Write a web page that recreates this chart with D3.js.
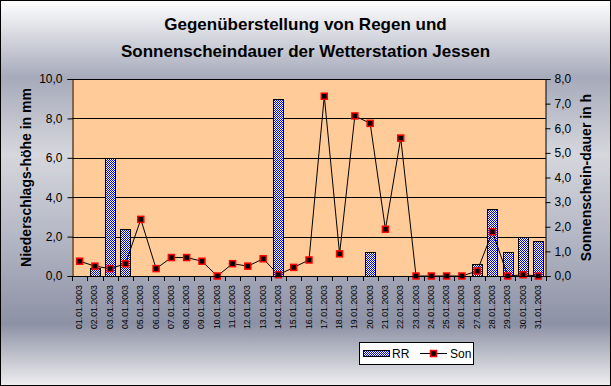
<!DOCTYPE html>
<html>
<head>
<meta charset="utf-8">
<script src="https://cdn.jsdelivr.net/npm/d3@7"></script>
<style>
  body { margin: 0; padding: 0; background: #fff; }
  svg { display: block; font-family: "Liberation Sans", Arial, sans-serif; }
</style>
</head>
<body>
<script>
// Chart data
const dates = ["01.01.2003","02.01.2003","03.01.2003","04.01.2003","05.01.2003","06.01.2003",
  "07.01.2003","08.01.2003","09.01.2003","10.01.2003","11.01.2003","12.01.2003","13.01.2003",
  "14.01.2003","15.01.2003","16.01.2003","17.01.2003","18.01.2003","19.01.2003","20.01.2003",
  "21.01.2003","22.01.2003","23.01.2003","24.01.2003","25.01.2003","26.01.2003","27.01.2003",
  "28.01.2003","29.01.2003","30.01.2003","31.01.2003"];
// Niederschlag (mm), left axis
const rain = [0, 0.4, 6.0, 2.4, 0, 0, 0, 0, 0, 0, 0, 0, 0, 9.0, 0, 0, 0, 0, 0, 1.2,
  0, 0, 0, 0, 0, 0, 0.6, 3.4, 1.2, 2.0, 1.8];
// Sonnenscheindauer (h), right axis
const sun = [0.6, 0.4, 0.3, 0.5, 2.3, 0.3, 0.75, 0.75, 0.6, 0.0, 0.5, 0.4, 0.7, 0.05, 0.35, 0.65,
  7.3, 0.9, 6.5, 6.2, 1.9, 5.6, 0, 0, 0, 0, 0.2, 1.8, 0, 0.05, 0];
const leftTicks = [0, 2, 4, 6, 8, 10];
const rightTicks = [0, 1, 2, 3, 4, 5, 6, 7, 8];
const titleLines = ["Gegenüberstellung von Regen und", "Sonnenscheindauer der Wetterstation Jessen"];

// Layout
const width = 611, height = 386;
const plot = {left: 72, right: 546, top: 79, bottom: 276};
const comma = d => d3.format(".1f")(d).replace(".", ",");

const svg = d3.select("body").append("svg")
  .attr("width", width)
  .attr("height", height);

const defs = svg.append("defs");

// chart background gradient
const grad = defs.append("linearGradient")
  .attr("id", "bg").attr("x1", 0).attr("y1", 0).attr("x2", 0).attr("y2", 1);
[[0, "#ffffff"], [0.2, "#a6aaba"], [0.4, "#d6d7dd"], [0.6, "#b6b9c6"], [0.84, "#8d91a5"], [1, "#eeeef0"]]
  .forEach(s => grad.append("stop").attr("offset", s[0]).attr("stop-color", s[1]));

// checker pattern for the rain bars
const pat = defs.append("pattern")
  .attr("id", "check").attr("width", 2).attr("height", 2)
  .attr("patternUnits", "userSpaceOnUse");
pat.append("rect").attr("width", 2).attr("height", 2).attr("fill", "#ffffff");
pat.append("rect").attr("width", 1).attr("height", 1).attr("fill", "#0000ff");
pat.append("rect").attr("x", 1).attr("y", 1).attr("width", 1).attr("height", 1).attr("fill", "#0000ff");

svg.append("rect")
  .attr("x", 0.5).attr("y", 0.5)
  .attr("width", width - 1).attr("height", height - 1)
  .attr("fill", "url(#bg)")
  .attr("stroke", "#000");

// Scales
const x = d3.scaleBand().domain(dates).range([plot.left, plot.right]).padding(0);
const yL = d3.scaleLinear().domain([0, 10]).range([plot.bottom, plot.top]);
const yR = d3.scaleLinear().domain([0, 8]).range([plot.bottom, plot.top]);
const barW = x.bandwidth() / 1.5;

// Plot area
svg.append("rect")
  .attr("x", plot.left).attr("y", plot.top)
  .attr("width", plot.right - plot.left).attr("height", plot.bottom - plot.top)
  .attr("fill", "#ffcc99");

// gridlines
svg.append("g")
  .selectAll("line")
  .data(leftTicks.filter(d => d > 0))
  .join("line")
  .attr("x1", plot.left).attr("x2", plot.right)
  .attr("y1", d => Math.round(yL(d)) + 0.5).attr("y2", d => Math.round(yL(d)) + 0.5)
  .attr("stroke", "#000");

// bars
svg.append("g")
  .selectAll("rect")
  .data(dates.map((d, i) => ({d, v: rain[i]})).filter(o => o.v > 0))
  .join("rect")
  .attr("x", o => Math.round(x(o.d) + (x.bandwidth() - barW) / 2) + 0.5)
  .attr("y", o => Math.round(yL(o.v)) + 0.5)
  .attr("width", Math.round(barW))
  .attr("height", o => Math.round(yL(0)) - Math.round(yL(o.v)))
  .attr("fill", "url(#check)")
  .attr("stroke", "#000");

// sunshine line
const line = d3.line()
  .x((d, i) => x(dates[i]) + x.bandwidth() / 2)
  .y(d => yR(d));
svg.append("path")
  .datum(sun)
  .attr("d", line)
  .attr("fill", "none")
  .attr("stroke", "#000")
  .attr("stroke-width", 1);

svg.append("g")
  .selectAll("rect")
  .data(sun)
  .join("rect")
  .attr("x", (d, i) => x(dates[i]) + x.bandwidth() / 2 - 3)
  .attr("y", d => yR(d) - 3)
  .attr("width", 6).attr("height", 6)
  .attr("fill", "#000")
  .attr("stroke", "#ff0000")
  .attr("stroke-width", 1.5);

// Axes
const leftAxis = svg.append("g")
  .attr("transform", `translate(${plot.left + 0.5},0)`)
  .call(d3.axisLeft(yL).tickValues(leftTicks).tickFormat(comma).tickSize(5).tickPadding(5));
const rightAxis = svg.append("g")
  .attr("transform", `translate(${plot.right - 0.5},0)`)
  .call(d3.axisRight(yR).tickValues(rightTicks).tickFormat(comma).tickSize(5).tickPadding(4));
[leftAxis, rightAxis].forEach(a => {
  a.selectAll("text").attr("font-size", 12).attr("fill", "#000").attr("font-family", "Liberation Sans, Arial, sans-serif");
  a.selectAll("line").attr("stroke", "#000");
  a.select(".domain").attr("stroke", "#000");
});

// top border of the plot
svg.append("line")
  .attr("x1", plot.left).attr("x2", plot.right)
  .attr("y1", plot.top + 0.5).attr("y2", plot.top + 0.5)
  .attr("stroke", "#000");

// bottom axis: ticks between the categories, labels rotated
const bottom = svg.append("g");
bottom.append("line")
  .attr("x1", plot.left).attr("x2", plot.right)
  .attr("y1", plot.bottom + 0.5).attr("y2", plot.bottom + 0.5)
  .attr("stroke", "#000");
bottom.selectAll(".tick")
  .data(dates.map(d => x(d)).concat([plot.right]))
  .join("line")
  .attr("x1", d => Math.round(d) + 0.5).attr("x2", d => Math.round(d) + 0.5)
  .attr("y1", plot.bottom).attr("y2", plot.bottom + 5)
  .attr("stroke", "#000");
bottom.selectAll("text")
  .data(dates)
  .join("text")
  .attr("transform", d => `translate(${x(d) + x.bandwidth() / 2 + 2.5},${plot.bottom + 9}) rotate(-90)`)
  .attr("text-anchor", "end")
  .attr("font-size", 8.8)
  .text(d => d);

// Titles
svg.append("g")
  .selectAll("text")
  .data(titleLines)
  .join("text")
  .attr("x", width / 2)
  .attr("y", (d, i) => 30 + i * 27)
  .attr("text-anchor", "middle")
  .attr("font-size", 17)
  .attr("font-weight", "bold")
  .text(d => d);

svg.append("text")
  .attr("transform", `translate(31,${(plot.top + plot.bottom) / 2}) rotate(-90)`)
  .attr("text-anchor", "middle")
  .attr("font-size", 14)
  .attr("font-weight", "bold")
  .text("Niederschlags-höhe in mm");

svg.append("text")
  .attr("transform", `translate(591,${(plot.top + plot.bottom) / 2}) rotate(-90)`)
  .attr("text-anchor", "middle")
  .attr("font-size", 14)
  .attr("font-weight", "bold")
  .text("Sonnenschein-dauer in h");

// Legend
const legend = svg.append("g").attr("transform", "translate(359,342)");
legend.append("rect")
  .attr("x", 0.5).attr("y", 0.5).attr("width", 114).attr("height", 22)
  .attr("fill", "#fff").attr("stroke", "#000");
legend.append("rect")
  .attr("x", 4.5).attr("y", 8.5).attr("width", 26).attr("height", 6)
  .attr("fill", "url(#check)").attr("stroke", "#000");
legend.append("text").attr("x", 33).attr("y", 16).attr("font-size", 12).text("RR");
legend.append("line")
  .attr("x1", 61).attr("x2", 88).attr("y1", 11.5).attr("y2", 11.5)
  .attr("stroke", "#000");
legend.append("rect")
  .attr("x", 71.5).attr("y", 8.5).attr("width", 6).attr("height", 6)
  .attr("fill", "#000").attr("stroke", "#ff0000").attr("stroke-width", 1.5);
legend.append("text").attr("x", 91).attr("y", 16).attr("font-size", 12).text("Son");
</script>
</body>
</html>
